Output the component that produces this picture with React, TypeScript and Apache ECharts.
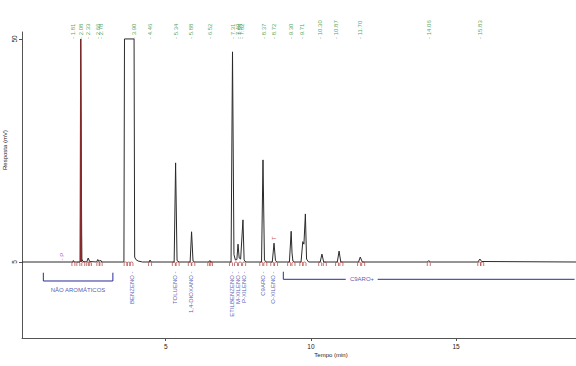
import React, { useEffect, useRef } from "react";
import * as echarts from "echarts";

// Chromatogram trace: [time (min), response (mV)]
const trace: [number, number][] = [
  [0.05, 5], [1.80, 5], [1.82, 5.3], [1.85, 5],
  [2.05, 5], [2.07, 50], [2.09, 50], [2.11, 5.6], [2.15, 5.1],
  [2.28, 5], [2.33, 5.8], [2.38, 5.1],
  [2.62, 5], [2.66, 5.5], [2.70, 5.1], [2.75, 5.4], [2.80, 5],
  [3.56, 5], [3.58, 50], [3.91, 50], [3.93, 6], [3.97, 5.5], [4.05, 5.2], [4.20, 5],
  [4.43, 5], [4.46, 5.4], [4.50, 5],
  [5.29, 5], [5.34, 25], [5.39, 5.3], [5.46, 5],
  [5.84, 5], [5.89, 11.1], [5.94, 5.2], [6.00, 5],
  [6.48, 5], [6.52, 5.3], [6.56, 5],
  [7.25, 5], [7.30, 47.4], [7.35, 6.5], [7.40, 5.4], [7.45, 5.5], [7.49, 8.6], [7.53, 5.8],
  [7.58, 5.6], [7.66, 13.5], [7.70, 5.4], [7.76, 5],
  [8.30, 5], [8.35, 25.6], [8.40, 5.4], [8.46, 5],
  [8.67, 5], [8.73, 8.8], [8.78, 5.3], [8.84, 5],
  [9.26, 5], [9.32, 11.2], [9.35, 6.8], [9.38, 5.2], [9.44, 5],
  [9.66, 5], [9.72, 9.1], [9.76, 8.6], [9.81, 14.7], [9.85, 5.6], [9.92, 5],
  [10.32, 5], [10.38, 6.6], [10.44, 5],
  [10.91, 5], [10.97, 7.2], [11.03, 5],
  [11.64, 5], [11.70, 6.0], [11.77, 5],
  [14.01, 5], [14.06, 5.3], [14.11, 5],
  [15.75, 5], [15.82, 5.6], [15.88, 5.1],
  [19.13, 5],
];

// Integrated (saturated) peak overlay
const integratedPeak: [number, number][] = [[2.065, 5], [2.075, 50], [2.09, 50], [2.1, 5]];

// Retention time labels (top)
const rtLabels = ["1.81", "2.08", "2.33", "2.66", "2.78", "3.90", "4.46", "5.34", "5.88", "6.52",
  "7.31", "7.49", "7.55", "7.62", "8.37", "8.72", "9.30", "9.71", "10.30", "10.87", "11.70", "14.06", "15.83"];

// Compound annotations
const compoundNames = ["BENZENO", "TOLUENO", "1,4-DIOXANO", "ETILBENZENO", "M-XILENO", "P-XILENO", "C9ARO", "O-XILENO"];
const compoundTimes = [3.83, 5.32, 5.87, 7.27, 7.48, 7.71, 8.34, 8.71];

// Integration markers
const markerTimes = [1.82, 1.99, 2.16, 2.33, 2.39, 2.68, 2.76, 3.62, 3.72, 3.82, 4.46, 5.28, 5.41, 5.83,
  5.95, 6.50, 6.56, 7.25, 7.42, 7.56, 7.70, 8.29, 8.43, 8.67, 8.80, 9.25, 9.40, 9.67, 9.78, 10.32, 10.48,
  10.90, 11.05, 11.66, 11.80, 14.06, 15.80, 15.90];

// Group brackets
const bracketNonArom: [number, number][] = [[0.785, 2.84], [0.785, 1.17], [3.18, 1.17], [3.18, 2.84]];
const bracketC9a: [number, number][] = [[9.05, 3.04], [9.05, 1.51], [11.2, 1.51]];
const bracketC9b: [number, number][] = [[12.3, 1.51], [19.08, 1.51]];
const groupLabels = [
  { name: "NÃO AROMÁTICOS", t: 1.98, v: -0.65 },
  { name: "C9ARO+", t: 11.76, v: 1.51 },
];

const xTicks = [5, 10, 15];
const yTicks = [5, 50];

const FONT = "Liberation Sans, Arial, sans-serif";
const BLUE = "#2b2b9b";

export default function App() {
  const ref = useRef<HTMLDivElement>(null);
  useEffect(() => {
    document.body.style.margin = "0";
    if (!ref.current) return;
    const chart = echarts.init(ref.current, undefined, { renderer: "svg" });
    const hidden = { color: "transparent" };
    chart.setOption({
      animation: false,
      backgroundColor: "#fff",
      grid: { left: 22, right: 0, top: 32, bottom: 28 },
      xAxis: {
        type: "value", min: 0.05, max: 19.13,
        axisLine: { show: true, onZero: false, lineStyle: { color: "#555", width: 1 } },
        axisTick: { show: true, customValues: xTicks, length: 3, lineStyle: { color: "#555" } },
        axisLabel: { customValues: xTicks, fontSize: 6.5, color: "#222", margin: 5, fontFamily: FONT },
        splitLine: { show: false },
      },
      yAxis: {
        type: "value", min: -10.33, max: 51.4,
        axisLine: { show: true, onZero: false, lineStyle: { color: "#555", width: 1 } },
        axisTick: { show: true, customValues: yTicks, length: 3, lineStyle: { color: "#555" } },
        axisLabel: { customValues: yTicks, rotate: 90, fontSize: 6.5, color: "#222", margin: 4, fontFamily: FONT },
        splitLine: { show: false },
      },
      graphic: [
        { type: "text", x: 5, y: 150, rotation: Math.PI / 2,
          style: { text: "Resposta (mV)", fontSize: 6, fill: "#222", fontFamily: FONT, align: "center", verticalAlign: "middle" } },
        { type: "text", x: 331, y: 355,
          style: { text: "Tempo (min)", fontSize: 6, fill: "#222", fontFamily: FONT, align: "center", verticalAlign: "middle" } },
      ],
      series: [
        {
          type: "line", data: trace, showSymbol: false, symbol: "none",
          lineStyle: { color: "#2a2a2a", width: 1 }, z: 3,
        },
        {
          type: "line", data: integratedPeak, symbol: "none",
          lineStyle: { color: "#8b2a2a", width: 1.2 }, z: 4,
        },
        {
          type: "scatter", data: markerTimes.map((t) => [t, 4.6]),
          symbol: "path://M0,10 L0,3 Q0,0 3,0 Q6,0 6,3 L6,10", symbolSize: [3, 4],
          itemStyle: { color: "transparent", borderColor: "#a02828", borderWidth: 0.8 }, z: 5,
        },
        {
          type: "scatter", symbolSize: 0.1, itemStyle: hidden,
          data: rtLabels.map((s) => ({ value: [parseFloat(s), 50], name: s })),
          label: {
            show: true, position: "inside", rotate: 90, align: "left", verticalAlign: "middle",
            formatter: (p: any) => "- " + p.name, fontSize: 6, color: "#2e8b30", fontFamily: FONT,
          },
        },
        {
          type: "scatter", symbolSize: 0.1, itemStyle: hidden,
          data: compoundNames.map((n, i) => ({ value: [compoundTimes[i], 3.1], name: n })),
          label: {
            show: true, position: "inside", rotate: 90, align: "right", verticalAlign: "middle",
            formatter: (p: any) => p.name + " -", fontSize: 6, color: BLUE, fontFamily: FONT,
          },
        },
        { type: "line", data: bracketNonArom, symbol: "none", lineStyle: { color: BLUE, width: 1 } },
        { type: "line", data: bracketC9a, symbol: "none", lineStyle: { color: BLUE, width: 1 } },
        { type: "line", data: bracketC9b, symbol: "none", lineStyle: { color: BLUE, width: 1 } },
        {
          type: "scatter", symbolSize: 0.1, itemStyle: hidden,
          data: groupLabels.map((g) => ({ value: [g.t, g.v], name: g.name })),
          label: {
            show: true, position: "inside", formatter: (p: any) => p.name,
            fontSize: 6, color: BLUE, fontFamily: FONT,
          },
        },
        {
          type: "scatter", symbolSize: 0.1, itemStyle: hidden,
          data: [{ value: [1.43, 5.3], name: "- P" }],
          label: {
            show: true, position: "inside", rotate: 90, align: "left", verticalAlign: "middle",
            formatter: (p: any) => p.name, fontSize: 6, color: "#b030b0", fontFamily: FONT,
          },
        },
        {
          type: "scatter", symbolSize: 0.1, itemStyle: hidden,
          data: [{ value: [8.73, 9.8], name: "T" }],
          label: {
            show: true, position: "inside", rotate: 90,
            formatter: (p: any) => p.name, fontSize: 6, color: "#c02020", fontFamily: FONT,
          },
        },
      ],
    });
    return () => chart.dispose();
  }, []);
  return <div ref={ref} style={{ width: 576, height: 366 }} />;
}
